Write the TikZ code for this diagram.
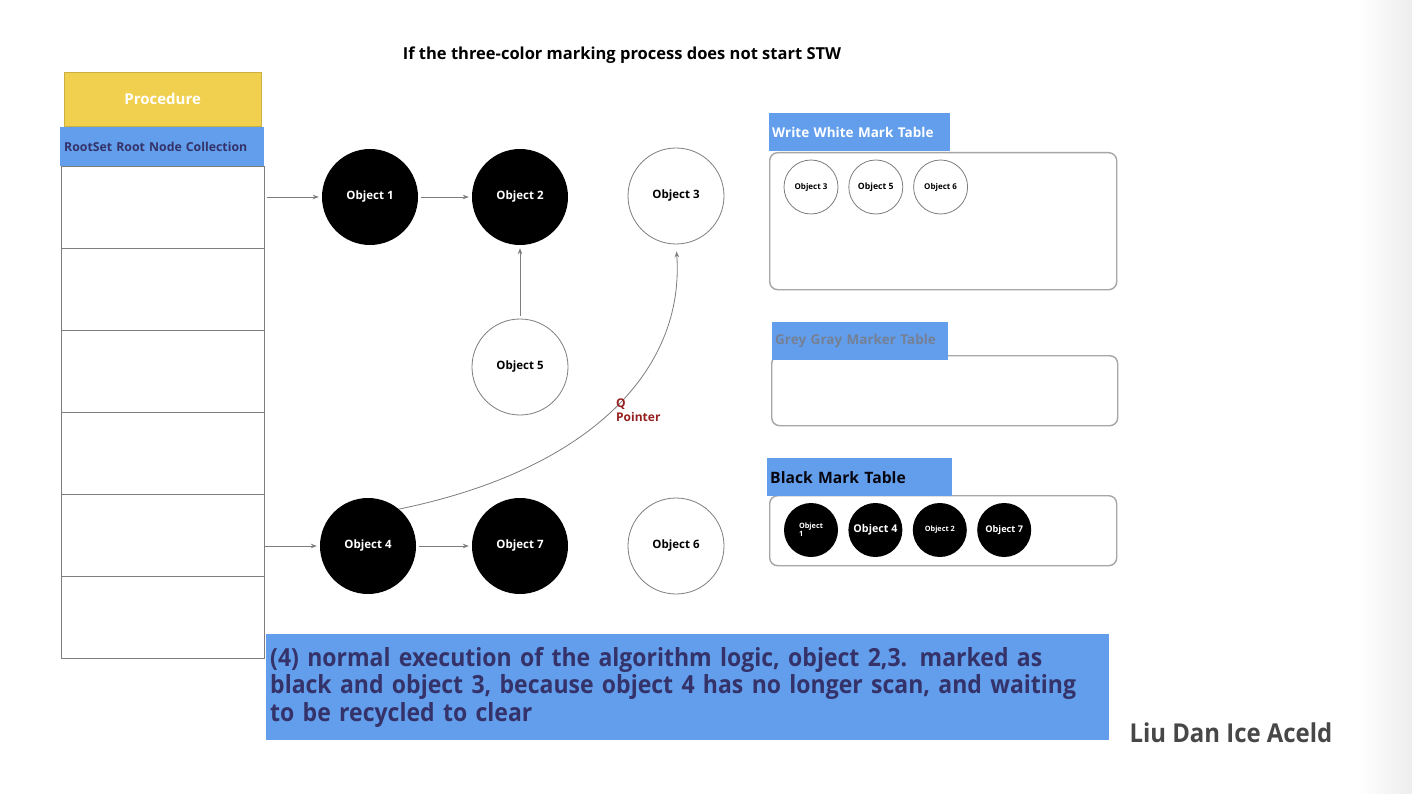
\documentclass[tikz,border=0pt]{standalone}
\usepackage{fontspec}
\setmainfont{Open Sans}
\newfontfamily\narrowfont[FakeStretch=0.92]{Open Sans}
\usetikzlibrary{positioning, arrows.meta}

\definecolor{procyellow}{RGB}{240,208,78}
\definecolor{tableblue}{RGB}{98,158,236}
\definecolor{navytext}{RGB}{52,50,105}
\definecolor{pointerred}{RGB}{150,32,32}
\definecolor{edgegrey}{RGB}{125,125,125}
\definecolor{fadedgrey}{RGB}{118,128,148}

\begin{document}
\begin{tikzpicture}[x=1pt, y=-1pt, >={Stealth[length=6pt,width=4.5pt]},
  blackobj/.style={circle, fill=black, minimum size=96pt, inner sep=0pt, text=white, font=\fontsize{11.5}{13}\selectfont\bfseries},
  whiteobj/.style={circle, draw=edgegrey, line width=0.8pt, fill=white, minimum size=96pt, inner sep=0pt, font=\fontsize{11.5}{13}\selectfont\bfseries},
  smallwhite/.style={circle, draw=edgegrey, line width=0.8pt, minimum size=54pt, inner sep=0pt, font=\fontsize{8}{9}\selectfont\bfseries},
  smallblack/.style={circle, fill=black, minimum size=54pt, inner sep=0pt, text=white, font=\fontsize{7.3}{8.3}\selectfont\bfseries},
  cell/.style={draw=edgegrey, line width=0.8pt, minimum width=203pt, minimum height=82pt, inner sep=0pt, outer sep=0pt, anchor=north west},
  tablebox/.style={draw=black!35, line width=1.4pt, rounded corners=8pt, anchor=north west, inner sep=0pt},
  tablelabel/.style={fill=tableblue, anchor=north west, minimum height=38pt, inner xsep=3pt, align=left},
  link/.style={->, draw=edgegrey, line width=0.8pt, shorten >=3pt, shorten <=3pt}
]

% Page and right edge
\useasboundingbox (0,0) rectangle (1412,794);
\fill[white] (0,0) rectangle (1412,794);
\shade[left color=white, right color=black!7] (1358,0) rectangle (1412,794);

% Title
\node[font=\fontsize{16.5}{18}\selectfont\bfseries] (title) at (622,55) {If the three-color marking process does not start STW};

% Procedure and root set column
\node[draw=procyellow!85!black, fill=procyellow, minimum width=197pt, minimum height=54pt, anchor=north west, text=white, font=\fontsize{15}{17}\selectfont\bfseries] (proc) at (64,72) {Procedure};
\node[fill=tableblue, anchor=north west, minimum height=39pt, inner xsep=4pt, text width=196pt, align=left, text=navytext, font=\fontsize{12.3}{14}\selectfont\bfseries] (rootset) at (60,127) {RootSet Root Node Collection};
\foreach \i in {1,...,6}
  \node[cell] (cell\i) at (61,{166+82*(\i-1)}) {};

% Objects
\node[blackobj] (obj1) at (370,197) {Object 1};
\node[blackobj] (obj2) at (520,197) {Object 2};
\node[whiteobj] (obj3) at (676,196) {Object 3};
\node[whiteobj] (obj5) at (520,367) {Object 5};
\node[blackobj] (obj4) at (368,546) {Object 4};
\node[blackobj] (obj7) at (520,546) {Object 7};
\node[whiteobj] (obj6) at (676,546) {Object 6};

% References
\draw[link, shorten <=3pt] (cell1.east |- obj1) -- (obj1);
\draw[link, shorten <=0pt] (cell5.east |- obj4) -- (obj4);
\draw[link] (obj1) -- (obj2);
\draw[link] (obj5) -- (obj2);
\draw[link] (obj4) -- (obj7);
\draw[link, shorten <=0pt, shorten >=7pt] (obj4.50) .. controls (590,470) and (685,370) .. (obj3.south);
\node[anchor=north west, align=left, text=pointerred, font=\fontsize{12}{13.5}\selectfont\bfseries, inner sep=0pt] (qptr) at (616,399) {Q\\Pointer};

% White mark table
\node[tablebox, minimum width=347pt, minimum height=137pt] (whitetable) at (769,152) {};
\node[tablelabel, text width=175pt, text=white, font=\fontsize{13.5}{15}\selectfont\bfseries] (whitelabel) at (769,113) {Write White Mark Table};
\node[smallwhite] (w3) at (811,187) {Object 3};
\node[smallwhite, right=10pt of w3, font=\fontsize{8.7}{9.7}\selectfont\bfseries] (w5) {Object 5};
\node[smallwhite, right=10pt of w5] (w6) {Object 6};

% Grey mark table
\node[tablebox, minimum width=346pt, minimum height=70pt] (greytable) at (771,355) {};
\node[tablelabel, text width=170pt, text=fadedgrey, font=\fontsize{13.5}{15}\selectfont\bfseries] (greylabel) at (772,322) {Grey Gray Marker Table};

% Black mark table
\node[tablebox, minimum width=347pt, minimum height=70pt] (blacktable) at (769,495) {};
\node[tablelabel, text width=179pt, text=black!85!navytext, font=\fontsize{15.7}{17}\selectfont\bfseries] (blacklabel) at (767,458) {Black Mark Table};
\node[smallblack, align=left] (b1) at (811,530) {Object\\1};
\node[smallblack, right=10pt of b1, font=\fontsize{10.7}{12}\selectfont\bfseries] (b4) {Object 4};
\node[smallblack, right=10pt of b4] (b2) {Object 2};
\node[smallblack, right=10pt of b2, font=\fontsize{9.2}{10.5}\selectfont\bfseries] (b7) {Object 7};

% Caption and signature
\node[fill=tableblue, anchor=north west, minimum height=106pt, inner xsep=4pt, text width=835pt, align=left, text=navytext, font=\narrowfont\bfseries\fontsize{25}{27.5}\selectfont] (caption) at (266,634) {(4) normal execution of the algorithm logic, object 2,3. marked as\\black and object 3, because object 4 has no longer scan, and waiting\\to be recycled to clear};
\node[anchor=west, text=black!72, font=\narrowfont\bfseries\fontsize{26}{28}\selectfont] (author) at (1126,733) {Liu Dan Ice Aceld};

\end{tikzpicture}
\end{document}
